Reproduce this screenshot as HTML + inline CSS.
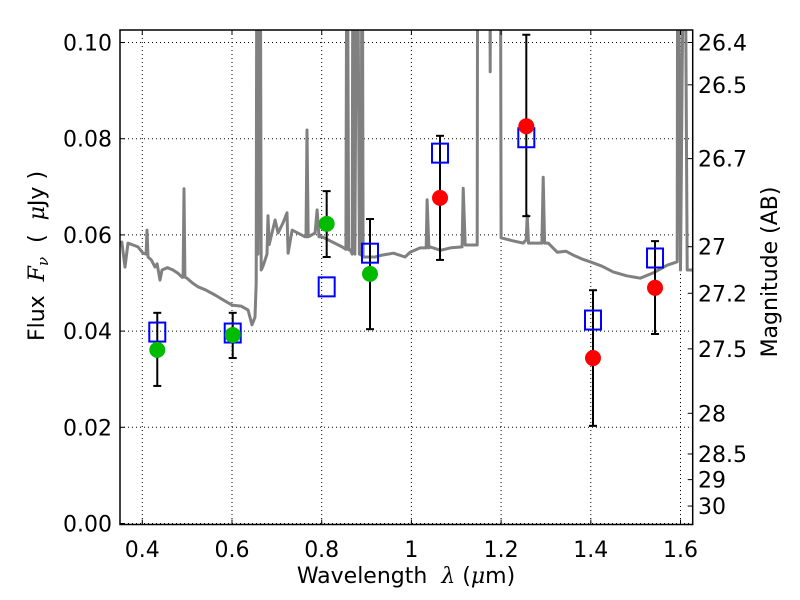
<!DOCTYPE html>
<html><head><meta charset="utf-8"><style>
html,body{margin:0;padding:0;background:#fff;}
svg{display:block;font-family:"DejaVu Sans","Liberation Sans",sans-serif;}
text{white-space:pre;}
</style></head><body>
<svg id="chart" width="800" height="600" viewBox="0 0 800 600"></svg>
<script>
// ---- data ----
const bandWave = [0.4334,0.6016,0.8111,0.9077,1.0638,1.2562,1.4049,1.5432];
const modelFlux = [0.0398,0.0396,0.0492,0.0562,0.0770,0.0802,0.0423,0.0552];
const greenWave = [0.4334,0.6016,0.8111,0.9077];
const greenFlux = [0.0361,0.0392,0.0623,0.0519];
const redWave = [1.0638,1.2562,1.4049,1.5432];
const redFlux = [0.0677,0.0826,0.0344,0.0490];
const errHigh = [0.0438,0.0438,0.0691,0.0633,0.0806,0.1016,0.0485,0.0587];
const errLow = [0.0286,0.0344,0.0554,0.0404,0.0548,0.0639,0.0203,0.0394];
const specWave = [0.350,0.3544,0.3614,0.3681,0.3904,0.4016,0.4085,0.4105,0.4127,0.4200,0.4283,0.4330,0.4395,0.4439,0.4560,0.4685,0.4800,0.4885,0.4910,0.4930,0.4950,0.4997,0.5120,0.5242,0.5400,0.5621,0.5800,0.6000,0.6200,0.6357,0.6446,0.6513,0.6540,0.6558,0.6580,0.6625,0.6650,0.6692,0.6780,0.6803,0.6830,0.6960,0.7027,0.7138,0.7227,0.7250,0.7339,0.7629,0.7650,0.7673,0.7700,0.7852,0.7897,0.7940,0.8008,0.8454,0.8540,0.8566,0.8600,0.8633,0.8680,0.8700,0.8740,0.8789,0.8840,0.8880,0.8901,0.8923,0.9191,0.9347,0.9600,0.9860,0.9972,1.0195,1.0330,1.0351,1.0390,1.0418,1.0650,1.0864,1.1130,1.1154,1.1200,1.1466,1.1480,1.1740,1.1756,1.1772,1.1979,1.2000,1.2250,1.2492,1.2560,1.2581,1.2610,1.2648,1.2910,1.2938,1.2970,1.3050,1.3251,1.3450,1.3608,1.3800,1.3987,1.4250,1.4500,1.4800,1.5102,1.5392,1.5704,1.5927,1.5940,1.6000,1.6090,1.6150,1.6284];
const specFlux = [0.0583,0.0585,0.0533,0.0583,0.0575,0.0562,0.0560,0.0610,0.0554,0.0548,0.0533,0.0540,0.0506,0.0527,0.0532,0.0527,0.0520,0.0512,0.0512,0.0696,0.0512,0.0510,0.0500,0.0492,0.0486,0.0475,0.0465,0.0454,0.0452,0.0444,0.0413,0.0429,0.0500,0.15,0.0560,0.15,0.0527,0.0535,0.0560,0.0640,0.0580,0.0631,0.0604,0.0625,0.0646,0.0562,0.0610,0.0596,0.0596,0.0818,0.0596,0.0604,0.0652,0.0596,0.0596,0.0575,0.0570,0.15,0.0569,0.0569,0.0560,0.15,0.0560,0.15,0.0560,0.0558,0.15,0.0554,0.0554,0.0558,0.0562,0.0554,0.0564,0.0573,0.0573,0.0673,0.0573,0.0575,0.0568,0.0573,0.0575,0.0697,0.0579,0.0579,0.15,0.15,0.0939,0.15,0.15,0.0594,0.0588,0.0583,0.0590,0.0641,0.0583,0.0583,0.0583,0.0720,0.0583,0.0583,0.0564,0.0566,0.0558,0.0550,0.0544,0.0535,0.0523,0.0515,0.0510,0.0521,0.0537,0.0544,0.15,0.0527,0.15,0.0527,0.0527];
const xTicks = [0.4,0.6,0.8,1.0,1.2,1.4,1.6];
const xTickLabels = ["0.4","0.6","0.8","1","1.2","1.4","1.6"];
const yTicks = [0,0.02,0.04,0.06,0.08,0.10];
const yTickLabels = ["0.00","0.02","0.04","0.06","0.08","0.10"];
const magTicks = [26.4,26.5,26.7,27,27.2,27.5,28,28.5,29,30];
const magTickLabels = ["26.4","26.5","26.7","27","27.2","27.5","28","28.5","29","30"];

// ---- axes ----
const L=120,R=692.7,T=30,B=524.5;
const xPx = v => 142.3 + (v-0.4)*448.5;
const yPx = v => 523.5 - v*4810;
const NS="http://www.w3.org/2000/svg";
const svg=document.getElementById('chart');
function mk(tag,attrs,parent){const e=document.createElementNS(NS,tag);for(const k in attrs)e.setAttribute(k,attrs[k]);(parent||svg).appendChild(e);return e;}

const defs=mk('defs',{});
const cp=mk('clipPath',{id:'clip'},defs);
mk('rect',{x:L,y:T,width:R-L,height:B-T},cp);

// grid
const grid=mk('g',{stroke:'#000','stroke-width':1,'stroke-dasharray':'1,3',fill:'none'});


xTicks.forEach(v=>{mk('line',{x1:xPx(v),x2:xPx(v),y1:T,y2:B},grid);});
yTicks.forEach(v=>{mk('line',{x1:L,x2:R,y1:yPx(v),y2:yPx(v)},grid);});

// spectrum
const plot=mk('g',{'clip-path':'url(#clip)'});
let d='';
specWave.forEach((w,i)=>{d+=(i?'L':'M')+xPx(w).toFixed(1)+','+yPx(specFlux[i]).toFixed(1);});
const sp=mk('path',{d:d,fill:'none',stroke:'#808080','stroke-width':3,'stroke-linejoin':'round'},plot);



// error bars
bandWave.forEach((w,i)=>{
  const g=mk('g',{stroke:'#000','stroke-width':2},plot);
  
  
  const x=xPx(w),y1=yPx(errHigh[i]),y2=yPx(errLow[i]);
  mk('line',{x1:x,x2:x,y1:y1,y2:y2},g);
  mk('line',{x1:x-4,x2:x+4,y1:y1,y2:y1},g);
  mk('line',{x1:x-4,x2:x+4,y1:y2,y2:y2},g);
});
// model squares
bandWave.forEach((w,i)=>{
  const r=mk('rect',{x:xPx(w)-8,y:yPx(modelFlux[i])-9.5,width:16,height:19,fill:'none',stroke:'#0000ff','stroke-width':2},plot);
  
  
});
greenWave.forEach((w,i)=>{
  const c=mk('circle',{cx:xPx(w),cy:yPx(greenFlux[i]),r:8,fill:'#00bb00'},plot);
  
  
});
redWave.forEach((w,i)=>{
  const c=mk('circle',{cx:xPx(w),cy:yPx(redFlux[i]),r:8,fill:'#ff0000'},plot);
  
  
});

// frame
const fr=mk('rect',{x:L,y:T,width:R-L,height:B-T,fill:'none',stroke:'#000','stroke-width':1.5});



// ticks and labels
const FS=22;
const tk=mk('g',{stroke:'#000','stroke-width':1});
xTicks.forEach((v,i)=>{
  const x=xPx(v);
  mk('line',{x1:x,x2:x,y1:B,y2:B-5},tk);mk('line',{x1:x,x2:x,y1:T,y2:T+5},tk);
  const t=mk('text',{x:x,y:557,'font-size':FS,'text-anchor':'middle',fill:'#000',stroke:'none'});
  t.textContent=xTickLabels[i];
  
  
});
yTicks.forEach((v,i)=>{
  const y=yPx(v);
  mk('line',{x1:L,x2:L+5,y1:y,y2:y},tk);
  const t=mk('text',{x:112,y:y+8,'font-size':FS,'text-anchor':'end',fill:'#000',stroke:'none'});
  t.textContent=yTickLabels[i];
  
  
});
magTicks.forEach((m,i)=>{
  const y=yPx(Math.pow(10,(23.9-m)/2.5));
  mk('line',{x1:R,x2:R-5,y1:y,y2:y},tk);
  const t=mk('text',{x:698,y:y+8,'font-size':FS,'text-anchor':'start',fill:'#000',stroke:'none'});
  t.textContent=magTickLabels[i];
  
  
});

// axis titles
const xt=mk('text',{x:406,y:583,'font-size':FS,'text-anchor':'middle'});
xt.innerHTML='Wavelength  <tspan font-family="DejaVu Serif,serif" font-style="italic">λ</tspan> (<tspan font-family="DejaVu Serif,serif" font-style="italic">μ</tspan>m)';


const yt=mk('text',{x:0,y:0,'font-size':FS,'text-anchor':'middle',transform:'translate(44,256) rotate(-90)'});
yt.innerHTML='Flux  <tspan font-family="DejaVu Serif,serif" font-style="italic">F</tspan><tspan font-family="DejaVu Serif,serif" font-style="italic" font-size="15" dy="4">ν</tspan><tspan dy="-4">  (  </tspan><tspan font-family="DejaVu Serif,serif" font-style="italic">μ</tspan>Jy )';


const rt=mk('text',{x:0,y:0,'font-size':FS,'text-anchor':'middle',transform:'translate(777,272) rotate(-90)'});
rt.textContent='Magnitude (AB)';


</script>
</body></html>
